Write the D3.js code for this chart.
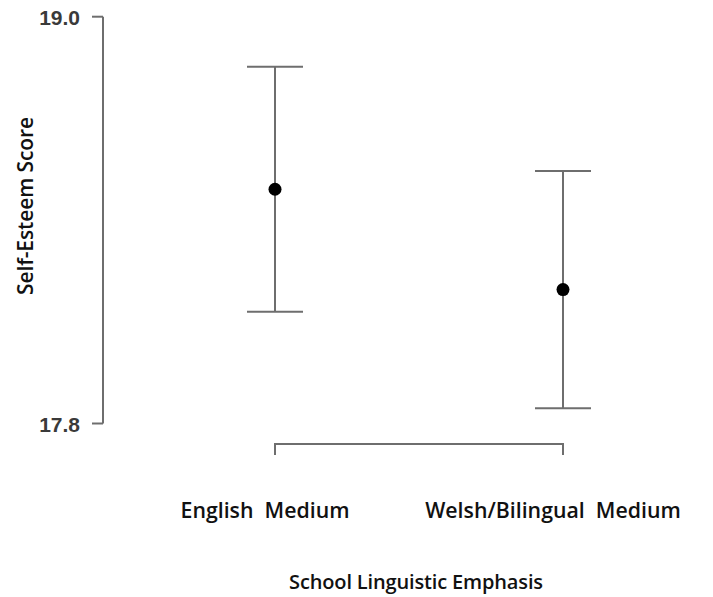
<!DOCTYPE html>
<html>
<head>
<meta charset="utf-8">
<script src="https://cdn.jsdelivr.net/npm/d3@7"></script>
<style>
  html, body { margin: 0; padding: 0; background: #fff; }
  svg { display: block; }
</style>
</head>
<body>
<script>
// Group means of self-esteem with their error-bar half widths
const categories = ["English  Medium", "Welsh/Bilingual  Medium"];
const means = [18.491, 18.195];
const errors = [0.361, 0.350];
const yTicks = [17.8, 19.0];
const yTickLabels = ["17.8", "19.0"];

const W = 713, H = 597;
const svg = d3.select("body").append("svg").attr("width", W).attr("height", H);

const y = d3.scaleLinear().domain([17.8, 19.0]).range([423.5, 16.7]);
const x = d3.scalePoint().domain(categories).range([275, 563]);

const lineCol = "#6e6e6e";

// Y axis: spine between the end ticks, ticks pointing left
const yAxisX = 103;
svg.append("line")
  .attr("x1", yAxisX).attr("x2", yAxisX)
  .attr("y1", y(yTicks[0])).attr("y2", y(yTicks[yTicks.length - 1]))
  .attr("stroke", lineCol).attr("stroke-width", 2);
svg.selectAll(".ytick").data(yTicks).enter().append("line")
  .attr("x1", yAxisX - 11).attr("x2", yAxisX)
  .attr("y1", d => y(d)).attr("y2", d => y(d))
  .attr("stroke", lineCol).attr("stroke-width", 2);
svg.selectAll(".ylab").data(yTicks).enter().append("text")
  .attr("x", 80).attr("y", d => y(d) + 1)
  .attr("dy", "0.36em")
  .attr("text-anchor", "end")
  .attr("font-family", "Liberation Sans, Arial, sans-serif")
  .attr("font-weight", "bold")
  .attr("font-size", 21)
  .attr("fill", "#3a3a3a")
  .text((d, i) => yTickLabels[i]);

// X axis: bracket spanning the two groups
const xAxisY = 444;
const x0 = x(categories[0]), x1 = x(categories[categories.length - 1]);
svg.append("path")
  .attr("d", `M${x0},${xAxisY + 11}V${xAxisY}H${x1}V${xAxisY + 11}`)
  .attr("fill", "none").attr("stroke", lineCol).attr("stroke-width", 2);

svg.selectAll(".xlab").data(categories).enter().append("text")
  .attr("x", d => x(d) - 10).attr("y", 518)
  .attr("text-anchor", "middle")
  .attr("font-family", "Open Sans, sans-serif")
  .attr("font-weight", 600)
  .attr("font-size", 21.3)
  .attr("fill", "#111")
  .style("white-space", "pre")
  .text(d => d);

// Error bars
const capHalf = 28;
const g = svg.selectAll(".bar").data(categories).enter().append("g");
g.append("line")
  .attr("x1", d => x(d)).attr("x2", d => x(d))
  .attr("y1", (d, i) => y(means[i] + errors[i]))
  .attr("y2", (d, i) => y(means[i] - errors[i]))
  .attr("stroke", lineCol).attr("stroke-width", 2);
g.append("line")
  .attr("x1", d => x(d) - capHalf).attr("x2", d => x(d) + capHalf)
  .attr("y1", (d, i) => y(means[i] + errors[i]))
  .attr("y2", (d, i) => y(means[i] + errors[i]))
  .attr("stroke", lineCol).attr("stroke-width", 2);
g.append("line")
  .attr("x1", d => x(d) - capHalf).attr("x2", d => x(d) + capHalf)
  .attr("y1", (d, i) => y(means[i] - errors[i]))
  .attr("y2", (d, i) => y(means[i] - errors[i]))
  .attr("stroke", lineCol).attr("stroke-width", 2);
g.append("circle")
  .attr("cx", d => x(d)).attr("cy", (d, i) => y(means[i]))
  .attr("r", 6.5).attr("fill", "#000");

// Axis titles
svg.append("text")
  .attr("x", 416).attr("y", 589)
  .attr("text-anchor", "middle")
  .attr("font-family", "Open Sans, sans-serif")
  .attr("font-weight", 600)
  .attr("font-size", 20)
  .attr("letter-spacing", "-0.15")
  .attr("fill", "#111")
  .text("School Linguistic Emphasis");

svg.append("text")
  .attr("transform", "translate(33,206) rotate(-90)")
  .attr("text-anchor", "middle")
  .attr("font-family", "Open Sans, sans-serif")
  .attr("font-weight", 600)
  .attr("font-size", 21)
  .attr("letter-spacing", "-0.1")
  .attr("fill", "#111")
  .text("Self-Esteem Score");
</script>
</body>
</html>
